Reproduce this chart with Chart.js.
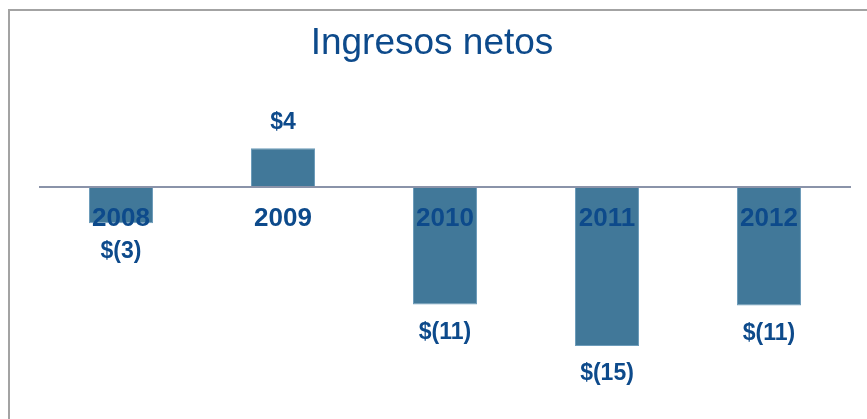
<!DOCTYPE html>
<html>
<head>
<meta charset="utf-8">
<script src="https://cdn.jsdelivr.net/npm/chart.js@4"></script>
<style>
  html, body { margin: 0; padding: 0; background: #fff; }
  #wrap { position: relative; width: 867px; height: 419px; }
  #frame { position: absolute; left: 8px; top: 9px; right: 0; bottom: 0;
           border-left: 2px solid #a3a3a3; border-top: 2px solid #a3a3a3; pointer-events: none; }
  canvas { position: absolute; left: 0; top: 0; }
</style>
</head>
<body>
<div id="wrap">
  <canvas id="chart" width="867" height="419"></canvas>
  <div id="frame"></div>
</div>
<script>
// values (US$ millions)
const years = ['2008', '2009', '2010', '2011', '2012'];
const netIncome = [-3.45, 3.6, -11.1, -15, -11.2];
const valueLabels = ['$(3)', '$4', '$(11)', '$(15)', '$(11)'];

const BLUE_TEXT = '#0d4a8b';
const FONT = "'Liberation Sans', Arial, sans-serif";

// value labels above positive bars / below negative bars
const barValueLabels = {
  id: 'barValueLabels',
  afterDatasetsDraw(chart) {
    const { ctx } = chart;
    const meta = chart.getDatasetMeta(0);
    ctx.save();
    ctx.font = `bold 23px ${FONT}`;
    ctx.fillStyle = BLUE_TEXT;
    ctx.textAlign = 'center';
    ctx.textBaseline = 'middle';
    meta.data.forEach((bar, i) => {
      const v = netIncome[i];
      const y = v >= 0 ? bar.y - 26 : bar.y + 28;
      ctx.fillText(valueLabels[i], bar.x, y);
    });
    ctx.restore();
  }
};

new Chart(document.getElementById('chart'), {
  type: 'bar',
  data: {
    labels: years,
    datasets: [{
      label: 'Ingresos netos',
      data: netIncome,
      backgroundColor: '#417899',
      borderColor: '#6d9cba',
      borderWidth: 1,
      barPercentage: 0.395,
      categoryPercentage: 1
    }]
  },
  options: {
    responsive: false,
    animation: false,
    layout: { padding: { left: 14, right: 17, top: 0, bottom: 20 } },
    plugins: {
      legend: { display: false },
      tooltip: { enabled: false },
      title: {
        display: true,
        text: 'Ingresos netos',
        color: BLUE_TEXT,
        font: { family: FONT, size: 37, weight: 'normal', lineHeight: 1.2 },
        padding: { top: 22, bottom: 14 }
      }
    },
    scales: {
      x: {
        position: { y: 0 },
        grid: { display: false, drawTicks: false },
        border: { display: true, color: '#8a93a9', width: 2, z: 1 },
        ticks: {
          z: 1,
          color: BLUE_TEXT,
          padding: 17,
          font: { family: FONT, size: 26, weight: 'bold' }
        }
      },
      y: {
        min: -20,
        max: 10,
        grid: { display: false },
        border: { display: false },
        ticks: { display: false },
        afterFit(scale) { scale.width = 26; }
      }
    }
  },
  plugins: [barValueLabels]
});
</script>
</body>
</html>
